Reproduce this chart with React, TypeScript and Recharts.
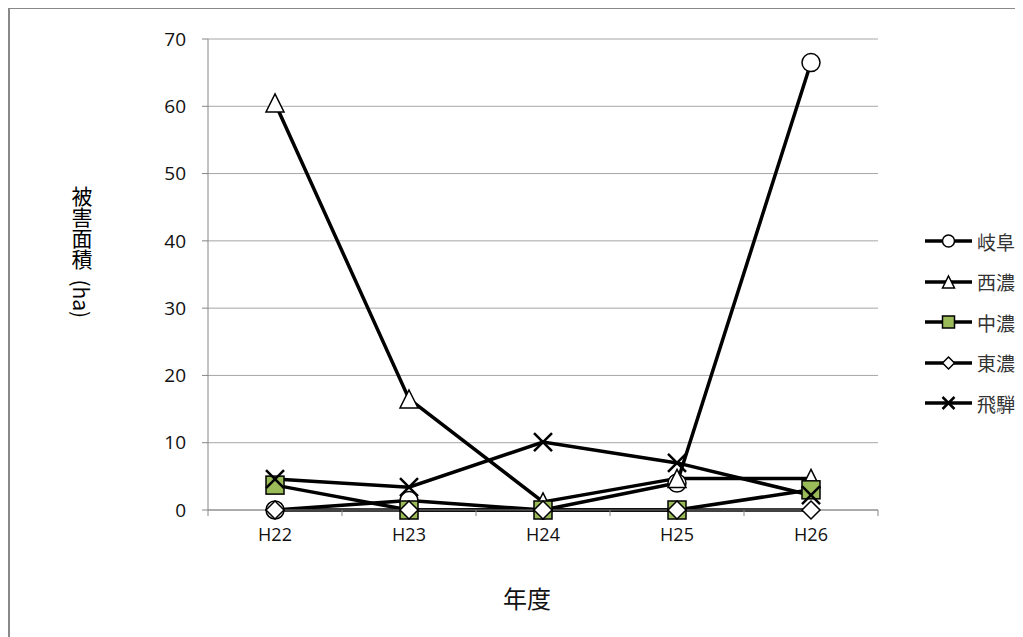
import React from 'react';
import { LineChart, Line, XAxis, YAxis, CartesianGrid, Legend } from 'recharts';

const years = ['H22', 'H23', 'H24', 'H25', 'H26'];
const gifu = [0, 1.4, 0, 4.0, 66.5];
const seino = [60.5, 16.5, 1.2, 4.7, 4.7];
const chuno = [3.7, 0, 0, 0, 3];
const tono = [0, 0, 0, 0, 0];
const hida = [4.6, 3.4, 10.1, 7.0, 2.2];
const yTicks = [0, 10, 20, 30, 40, 50, 60, 70];

const data = years.map((y, i) => ({
  year: y,
  岐阜: gifu[i],
  西濃: seino[i],
  中濃: chuno[i],
  東濃: tono[i],
  飛騨: hida[i],
}));

const GREEN = '#9BBB59';
const FONT = '"Open Sans", "Noto Sans CJK JP", sans-serif';
const JP = '"Noto Sans CJK JP", sans-serif';

type Shape = 'circle' | 'triangle' | 'square' | 'diamond' | 'cross';

const Marker = ({ shape, cx, cy, s }: { shape: Shape; cx: number; cy: number; s: number }) => {
  const h = s / 2;
  switch (shape) {
    case 'circle':
      return <circle cx={cx} cy={cy} r={h} fill="#fff" stroke="#000" strokeWidth={1.5} />;
    case 'triangle':
      return (
        <polygon
          points={`${cx},${cy - h} ${cx + h},${cy + h} ${cx - h},${cy + h}`}
          fill="#fff"
          stroke="#000"
          strokeWidth={1.5}
        />
      );
    case 'square':
      return <rect x={cx - h} y={cy - h} width={s} height={s} fill={GREEN} stroke="#000" strokeWidth={1.5} />;
    case 'diamond':
      return (
        <polygon
          points={`${cx},${cy - h} ${cx + h},${cy} ${cx},${cy + h} ${cx - h},${cy}`}
          fill="#fff"
          stroke="#000"
          strokeWidth={1.5}
        />
      );
    default:
      return (
        <g stroke="#000" strokeWidth={2.5}>
          <line x1={cx - h} y1={cy - h} x2={cx + h} y2={cy + h} />
          <line x1={cx - h} y1={cy + h} x2={cx + h} y2={cy - h} />
        </g>
      );
  }
};

const series: { key: string; shape: Shape }[] = [
  { key: '岐阜', shape: 'circle' },
  { key: '西濃', shape: 'triangle' },
  { key: '中濃', shape: 'square' },
  { key: '東濃', shape: 'diamond' },
  { key: '飛騨', shape: 'cross' },
];

const makeDot = (shape: Shape) => (props: any) => {
  const { cx, cy, index } = props;
  if (cx == null || cy == null) return <g key={index} />;
  return (
    <g key={index}>
      <Marker shape={shape} cx={cx} cy={cy} s={18} />
    </g>
  );
};

// category labels plus Excel-style tick marks between categories
const XTick = (props: any) => {
  const { x, y, payload, width, visibleTicksCount, index } = props;
  const step = width / visibleTicksCount;
  const axisY = y - 24;
  const left = payload.coordinate - step / 2;
  return (
    <g>
      <line x1={left} y1={axisY} x2={left} y2={axisY + 6} stroke="#868686" />
      {index === visibleTicksCount - 1 && (
        <line x1={left + step} y1={axisY} x2={left + step} y2={axisY + 6} stroke="#868686" />
      )}
      <text x={x} y={y} textAnchor="middle" dominantBaseline="central" fontSize={18} fill="#111" fontFamily={FONT}>
        {payload.value}
      </text>
    </g>
  );
};

const LegendContent = () => (
  <div style={{ fontFamily: JP }}>
    {series.map((s) => (
      <div key={s.key} style={{ height: 40.5, display: 'flex', alignItems: 'center' }}>
        <svg width={52} height={20}>
          <line x1={0} y1={10} x2={47} y2={10} stroke="#000" strokeWidth={3.5} />
          <Marker shape={s.shape} cx={23.5} cy={10} s={12} />
        </svg>
        <span style={{ fontSize: 19, color: '#333', lineHeight: 1 }}>{s.key}</span>
      </div>
    ))}
  </div>
);

export default function App() {
  return (
    <div style={{ position: 'relative', width: 1015, height: 629, overflow: 'hidden' }}>
      <LineChart
        width={1015}
        height={629}
        data={data}
        margin={{ top: 31, right: 145, left: 130, bottom: 97 }}
      >
        <CartesianGrid vertical={false} stroke="#a6a6a6" />
        <XAxis
          dataKey="year"
          padding={{ left: 67, right: 67 }}
          axisLine={{ stroke: '#868686' }}
          tickLine={false}
          tickSize={6}
          tickMargin={18}
          height={30}
          tick={<XTick />}
          interval={0}
        />
        <YAxis
          domain={[0, 70]}
          ticks={yTicks}
          width={70}
          axisLine={{ stroke: '#868686' }}
          tickLine={{ stroke: '#868686' }}
          tickSize={6}
          tickMargin={16}
          tick={{ fontSize: 19, fill: '#111', fontFamily: FONT }}
        />
        <Legend
          layout="vertical"
          align="center"
          verticalAlign="middle"
          content={<LegendContent />}
          wrapperStyle={{ left: 917, top: 213, width: 100, height: 205 }}
        />
        {series.map((s) => (
          <Line
            key={s.key}
            dataKey={s.key}
            stroke="#000"
            strokeWidth={3.5}
            dot={makeDot(s.shape)}
            activeDot={false}
            isAnimationActive={false}
          />
        ))}
      </LineChart>
      <div
        style={{
          position: 'absolute',
          left: 62,
          top: 178,
          writingMode: 'vertical-rl',
          fontFamily: JP,
          fontSize: 21,
          lineHeight: '23px',
          color: '#000',
          whiteSpace: 'pre',
        }}
      >
        {'被害面積  (ha)'}
      </div>
      <div
        style={{
          position: 'absolute',
          left: 469,
          top: 574,
          width: 100,
          textAlign: 'center',
          fontFamily: JP,
          fontSize: 24,
          lineHeight: '32px',
          color: '#111',
        }}
      >
        年度
      </div>
      <div
        style={{
          position: 'absolute',
          left: 0,
          top: -1,
          width: 1060,
          height: 680,
          border: '2px solid #898989',
          boxSizing: 'border-box',
          pointerEvents: 'none',
        }}
      />
    </div>
  );
}
